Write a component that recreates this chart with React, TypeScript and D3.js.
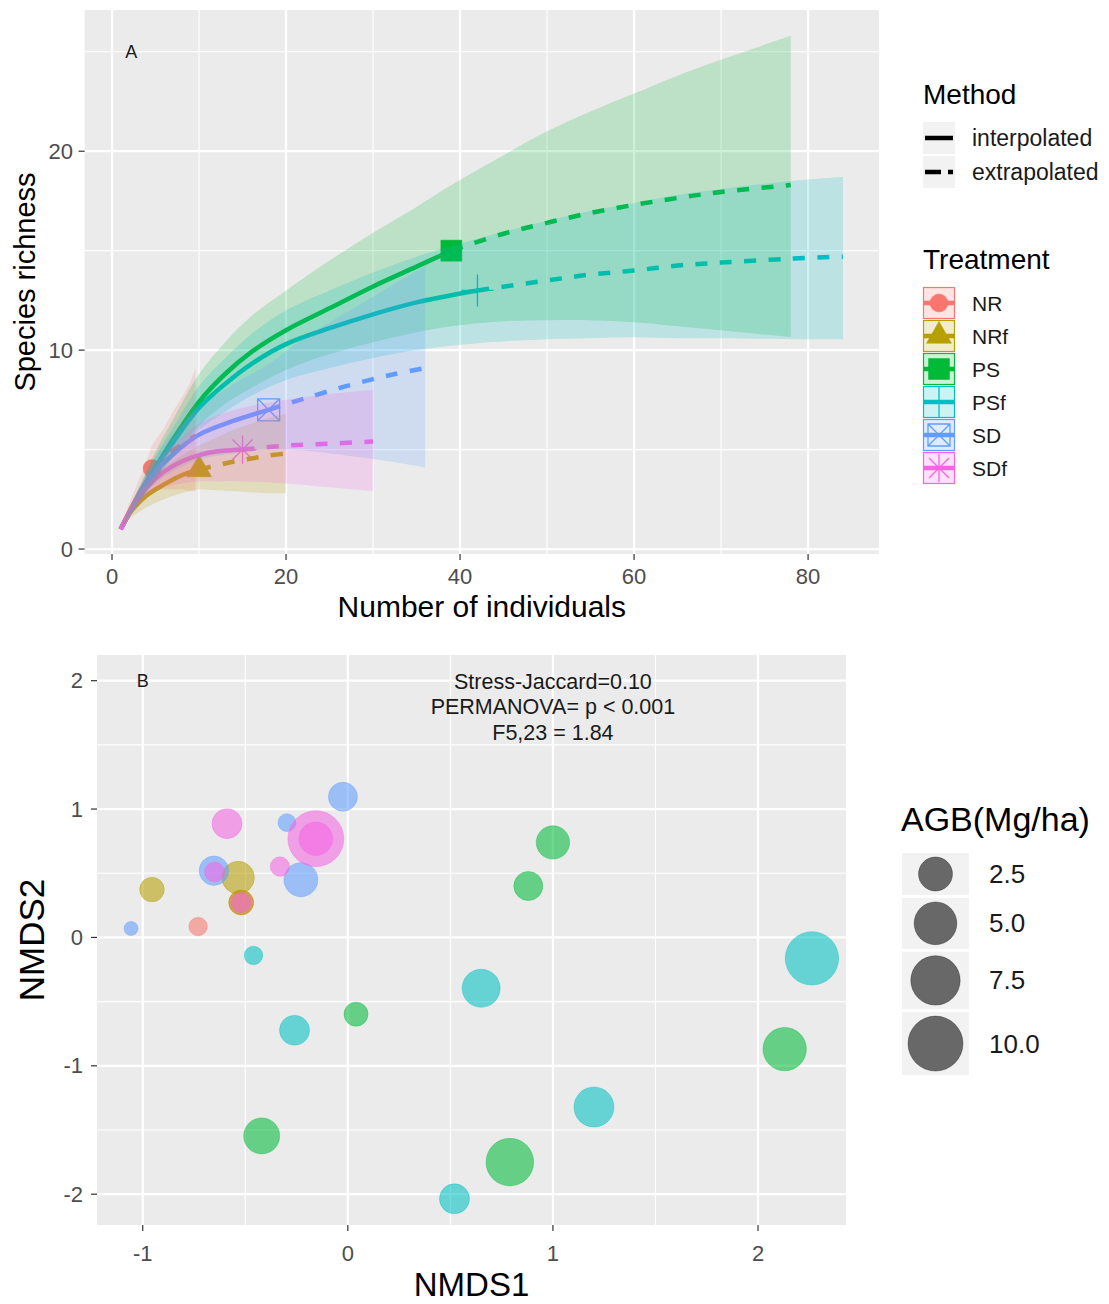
import React from 'react';
import * as d3 from 'd3';

// ---------- shared ----------
const TREATMENTS = ['NR', 'NRf', 'PS', 'PSf', 'SD', 'SDf'];
const COLORS = ['#F8766D', '#B79F00', '#00BA38', '#00BFC4', '#619CFF', '#F564E3'];
const SHAPES = ['circle', 'triangle', 'square', 'plus', 'boxX', 'asterisk'];

// ---------- panel A: rarefaction curves, rows are [m, est, lcl, ucl] ----------
const NR_interp = [[1, 1, 1, 1], [2, 1.9, 1.6, 2.3], [3, 2.7, 2.1, 3.4], [4, 3.45, 2.6, 4.4], [4.6, 4.05, 2.9, 5.2]];
const NR_extrap = [[4.6, 4.05, 2.9, 5.2], [6, 4.6, 3.0, 6.1], [7, 4.95, 3.0, 6.9], [8, 5.25, 3.0, 7.6], [9, 5.55, 2.9, 8.4], [9.6, 5.7, 2.9, 9.1]];
const NRf_interp = [[1, 1, 1, 1], [2, 1.8, 1.5, 2.1], [4, 2.7, 2.1, 3.3], [6, 3.25, 2.5, 4.1], [8, 3.7, 2.8, 4.7], [10, 4.0, 3.0, 5.2]];
const NRf_extrap = [[10, 4.0, 3.0, 5.2], [12, 4.2, 2.95, 5.6], [14, 4.4, 2.9, 6.0], [16, 4.55, 2.85, 6.3], [18, 4.7, 2.8, 6.6], [20, 4.8, 2.8, 6.8]];
const PS_interp = [[1, 1, 1, 1], [3, 2.6, 2.3, 3.0], [5, 4.1, 3.5, 4.9], [7, 5.5, 4.6, 6.5], [10, 7.4, 6.2, 8.8], [13, 8.8, 7.3, 10.4], [16, 9.9, 8.1, 11.7], [20, 11.0, 9.0, 13.0], [25, 12.1, 9.8, 14.5], [30, 13.2, 10.4, 15.9], [35, 14.2, 10.9, 17.2], [39, 15.0, 11.2, 18.3]];
const PS_extrap = [[39, 15.0, 11.2, 18.3], [45, 15.85, 11.45, 19.8], [50, 16.4, 11.5, 21.0], [55, 16.9, 11.5, 22.0], [60, 17.3, 11.4, 22.9], [65, 17.65, 11.2, 23.8], [70, 17.95, 11.0, 24.6], [78, 18.3, 10.65, 25.8]];
const PSf_interp = [[1, 1, 1, 1], [3, 2.6, 2.3, 2.9], [5, 4.05, 3.5, 4.7], [7, 5.35, 4.6, 6.1], [10, 7.1, 6.0, 8.2], [13, 8.3, 6.9, 9.6], [16, 9.3, 7.7, 10.8], [20, 10.3, 8.5, 12.0], [25, 11.1, 9.1, 13.0], [30, 11.8, 9.6, 13.9], [35, 12.4, 10.0, 14.7], [42, 13.0, 10.35, 15.6]];
const PSf_extrap = [[42, 13.0, 10.35, 15.6], [50, 13.5, 10.55, 16.5], [55, 13.8, 10.6, 17.0], [60, 14.0, 10.65, 17.4], [65, 14.25, 10.6, 17.8], [70, 14.4, 10.6, 18.1], [78, 14.6, 10.55, 18.5], [84, 14.7, 10.55, 18.7]];
const SD_interp = [[1, 1, 1, 1], [3, 2.6, 2.3, 3.0], [5, 3.9, 3.3, 4.6], [7, 4.75, 3.9, 5.8], [10, 5.75, 4.5, 7.1], [14, 6.45, 4.8, 8.3], [18, 7.0, 5.0, 9.3]];
const SD_extrap = [[18, 7.0, 5.0, 9.3], [22, 7.55, 4.95, 10.6], [27, 8.2, 4.7, 11.9], [32, 8.75, 4.4, 13.2], [36, 9.1, 4.1, 14.2]];
const SDf_interp = [[1, 1, 1, 1], [2.5, 2.2, 1.9, 2.5], [4, 3.1, 2.6, 3.7], [6, 3.9, 3.1, 4.8], [8, 4.4, 3.3, 5.6], [10, 4.72, 3.4, 6.3], [12, 4.9, 3.4, 6.7], [15, 5.0, 3.4, 7.1]];
const SDf_extrap = [[15, 5.0, 3.4, 7.1], [20, 5.2, 3.3, 7.5], [25, 5.3, 3.1, 7.8], [30, 5.4, 2.9, 8.0]];

const INTERP = [NR_interp, NRf_interp, PS_interp, PSf_interp, SD_interp, SDf_interp];
const EXTRAP = [NR_extrap, NRf_extrap, PS_extrap, PSf_extrap, SD_extrap, SDf_extrap];

const A_X_TICKS = [0, 20, 40, 60, 80];
const A_X_MINOR = [10, 30, 50, 70];
const A_Y_TICKS = [0, 10, 20];
const A_Y_MINOR = [5, 15, 25];
const A_LABEL = { text: 'A', x: 2.2, y: 25 };
const METHODS = ['interpolated', 'extrapolated'];

// ---------- panel B: NMDS ----------
const B_treat = [
  'NR', 'NR',
  'NRf', 'NRf', 'NRf',
  'PS', 'PS', 'PS', 'PS', 'PS', 'PS',
  'PSf', 'PSf', 'PSf', 'PSf', 'PSf', 'PSf',
  'SD', 'SD', 'SD', 'SD', 'SD',
  'SDf', 'SDf', 'SDf', 'SDf', 'SDf', 'SDf',
];
const B_nmds1 = [
  -0.73, -0.52,
  -0.955, -0.535, -0.52,
  0.04, -0.42, 0.79, 0.88, 1.0, 2.13,
  -0.46, -0.26, 0.52, 0.65, 1.2, 2.263,
  -1.057, -0.653, -0.297, -0.229, -0.024,
  -0.589, -0.331, -0.156, -0.156, -0.65, -0.52,
];
const B_nmds2 = [
  0.085, 0.272,
  0.373, 0.466, 0.272,
  -0.598, -1.546, -1.75, 0.40, 0.74, -0.87,
  -0.14, -0.723, -2.036, -0.396, -1.321, -0.163,
  0.07, 0.52, 0.894, 0.45, 1.096,
  0.886, 0.552, 0.769, 0.769, 0.51, 0.272,
];
const B_agb = [
  0.28, 0.8,
  0.82, 2.19, 0.87,
  0.75, 3.0, 6.78, 1.48, 2.36, 5.23,
  0.28, 1.66, 1.66, 3.54, 4.12, 9.26,
  0.16, 1.55, 0.25, 2.51, 1.48,
  1.66, 0.33, 10.5, 2.41, 0.37, 0.37,
];
const B_X_TICKS = [-1, 0, 1, 2];
const B_X_MINOR = [-0.5, 0.5, 1.5];
const B_Y_TICKS = [-2, -1, 0, 1, 2];
const B_Y_MINOR = [-1.5, -0.5, 0.5, 1.5];
const AGB_BREAKS = [2.5, 5.0, 7.5, 10.0];
const B_LABEL = { text: 'B', x: -1, y: 2 };
const B_NOTE = ['Stress-Jaccard=0.10', 'PERMANOVA= p < 0.001', 'F5,23 = 1.84'];
const B_NOTE_POS = { x: 1, y: 2 };

const FONT = '"Liberation Sans", Arial, Helvetica, sans-serif';
const PANEL_BG = '#EBEBEB';
const TICK_COL = '#333333';
const TICK_TXT = '#4D4D4D';

function markerPath(shape: string): string {
  switch (shape) {
    case 'circle':
      return d3.symbol(d3.symbolCircle, Math.PI * 9 * 9)() as string;
    case 'triangle': {
      const s = 25, h = (s * Math.sqrt(3)) / 2;
      return `M0,${-h * 2 / 3}L${s / 2},${h / 3}L${-s / 2},${h / 3}Z`;
    }
    case 'square':
      return d3.symbol(d3.symbolSquare, 21 * 21)() as string;
    case 'plus':
      return 'M0,-16V16M-16,0H16';
    case 'boxX':
      return 'M-11,-11H11V11H-11ZM-11,-11L11,11M11,-11L-11,11';
    case 'asterisk':
      return 'M0,-14V14M-14,0H14M-10,-10L10,10M10,-10L-10,10';
  }
  return '';
}
const FILLED = new Set(['circle', 'triangle', 'square']);

function Marker({ shape, color, x, y }: { shape: string; color: string; x: number; y: number }) {
  const filled = FILLED.has(shape);
  return (
    <path
      d={markerPath(shape)}
      transform={`translate(${x},${y})`}
      fill={filled ? color : 'none'}
      stroke={color}
      strokeWidth={filled ? 0.5 : 1.3}
    />
  );
}

export default function App() {
  // ----- Panel A scales -----
  const xA = d3.scaleLinear().domain([-3.15, 88.15]).range([84.6, 879]);
  const yA = d3.scaleLinear().domain([-0.25, 27.1]).range([554, 10]);
  const [ax0, ax1] = xA.range();
  const [ay1, ay0] = yA.range();

  const curve = d3.curveCatmullRom.alpha(0.5);
  const line = d3
    .line<number[]>()
    .x((d) => xA(d[0]))
    .y((d) => yA(d[1]))
    .curve(curve);
  const area = d3
    .area<number[]>()
    .x((d) => xA(d[0]))
    .y0((d) => yA(d[2]))
    .y1((d) => yA(d[3]))
    .curve(curve);

  // ----- Panel B scales -----
  const xB = d3.scaleLinear().domain([-1.223, 2.429]).range([97, 846]);
  const yB = d3.scaleLinear().domain([-2.24, 2.2]).range([1225, 655]);
  const [bx0, bx1] = xB.range();
  const [by1, by0] = yB.range();
  const agbMin = d3.min(B_agb) as number;
  const agbMax = d3.max(B_agb) as number;
  const rScale = d3.scaleSqrt().domain([0, agbMax - agbMin]).range([7, 28]);
  const radius = (v: number) => rScale(Math.max(0, v - agbMin));
  const colorOf = d3.scaleOrdinal<string, string>().domain(TREATMENTS).range(COLORS);

  // legend B layout
  const legendB: { v: number; r: number; top: number; h: number }[] = [];
  let cursor = 853;
  AGB_BREAKS.forEach((v) => {
    const r = radius(v);
    const h = 2 * r + 8;
    legendB.push({ v, r, top: cursor, h });
    cursor += h + 3;
  });

  return (
    <svg
      width={1109}
      height={1304}
      style={{ position: 'absolute', left: 0, top: 0, background: '#fff' }}
      fontFamily={FONT}
    >
      <rect x={0} y={0} width={1109} height={1304} fill="#fff" />

      {/* ================= PANEL A ================= */}
      <rect x={ax0} y={ay0} width={ax1 - ax0} height={ay1 - ay0} fill={PANEL_BG} />
      {A_X_MINOR.map((t) => (
        <line key={'axm' + t} x1={xA(t)} x2={xA(t)} y1={ay0} y2={ay1} stroke="#fff" strokeWidth={1.1} />
      ))}
      {A_Y_MINOR.map((t) => (
        <line key={'aym' + t} x1={ax0} x2={ax1} y1={yA(t)} y2={yA(t)} stroke="#fff" strokeWidth={1.1} />
      ))}
      {A_X_TICKS.map((t) => (
        <line key={'axM' + t} x1={xA(t)} x2={xA(t)} y1={ay0} y2={ay1} stroke="#fff" strokeWidth={2.2} />
      ))}
      {A_Y_TICKS.map((t) => (
        <line key={'ayM' + t} x1={ax0} x2={ax1} y1={yA(t)} y2={yA(t)} stroke="#fff" strokeWidth={2.2} />
      ))}

      {/* observed points (drawn first, like ggiNEXT) */}
      {TREATMENTS.map((t, i) => {
        const last = INTERP[i][INTERP[i].length - 1];
        return <Marker key={'pt' + t} shape={SHAPES[i]} color={COLORS[i]} x={xA(last[0])} y={yA(last[1])} />;
      })}
      {/* lines */}
      {TREATMENTS.map((t, i) => (
        <g key={'ln' + t}>
          <path d={line(INTERP[i]) as string} fill="none" stroke={COLORS[i]} strokeWidth={4.5} />
          <path
            d={line(EXTRAP[i]) as string}
            fill="none"
            stroke={COLORS[i]}
            strokeWidth={4.5}
            strokeDasharray="12,12.4"
          />
        </g>
      ))}
      {/* ribbons */}
      {TREATMENTS.map((t, i) => (
        <path
          key={'rb' + t}
          d={area(INTERP[i].concat(EXTRAP[i].slice(1))) as string}
          fill={COLORS[i]}
          fillOpacity={0.2}
          stroke="none"
        />
      ))}

      <text x={xA(A_LABEL.x)} y={yA(A_LABEL.y)} fontSize={18} textAnchor="middle" dominantBaseline="central" fill="#1a1a1a">
        {A_LABEL.text}
      </text>

      {/* axes A */}
      {A_X_TICKS.map((t) => (
        <g key={'axt' + t}>
          <line x1={xA(t)} x2={xA(t)} y1={ay1} y2={ay1 + 6} stroke={TICK_COL} strokeWidth={1.2} />
          <text x={xA(t)} y={584} fontSize={22} textAnchor="middle" fill={TICK_TXT}>
            {t}
          </text>
        </g>
      ))}
      {A_Y_TICKS.map((t) => (
        <g key={'ayt' + t}>
          <line x1={ax0 - 6} x2={ax0} y1={yA(t)} y2={yA(t)} stroke={TICK_COL} strokeWidth={1.2} />
          <text x={73} y={yA(t)} fontSize={22} textAnchor="end" dominantBaseline="central" fill={TICK_TXT}>
            {t}
          </text>
        </g>
      ))}
      <text x={(ax0 + ax1) / 2} y={617} fontSize={30} textAnchor="middle" fill="#000">
        Number of individuals
      </text>
      <text
        transform={`translate(35,${(ay0 + ay1) / 2}) rotate(-90)`}
        fontSize={29}
        textAnchor="middle"
        fill="#000"
      >
        Species richness
      </text>

      {/* legend A: Method */}
      <text x={923} y={104} fontSize={28} fill="#000">
        Method
      </text>
      {METHODS.map((m, i) => {
        const cy = 138 + i * 34;
        return (
          <g key={'meth' + m}>
            <rect x={923} y={cy - 16} width={32} height={32} fill="#F2F2F2" />
            <line
              x1={925}
              x2={953}
              y1={cy}
              y2={cy}
              stroke="#000"
              strokeWidth={4.5}
              strokeDasharray={i === 1 ? '16,7' : undefined}
            />
            <text x={972} y={cy} fontSize={23} dominantBaseline="central" fill="#1a1a1a">
              {m}
            </text>
          </g>
        );
      })}
      {/* legend A: Treatment */}
      <text x={923} y={269} fontSize={28} fill="#000">
        Treatment
      </text>
      {TREATMENTS.map((t, i) => {
        const cy = 303 + i * 33;
        return (
          <g key={'tr' + t}>
            <rect x={923.5} y={cy - 15.5} width={31} height={31} fill={COLORS[i]} fillOpacity={0.2} stroke={COLORS[i]} strokeWidth={1.2} />
            <line x1={924} x2={954} y1={cy} y2={cy} stroke={COLORS[i]} strokeWidth={4.5} />
            <Marker shape={SHAPES[i]} color={COLORS[i]} x={939} y={cy} />
            <text x={972} y={cy} fontSize={21} dominantBaseline="central" fill="#1a1a1a">
              {t}
            </text>
          </g>
        );
      })}

      {/* ================= PANEL B ================= */}
      <rect x={bx0} y={by0} width={bx1 - bx0} height={by1 - by0} fill={PANEL_BG} />
      {B_X_MINOR.map((t) => (
        <line key={'bxm' + t} x1={xB(t)} x2={xB(t)} y1={by0} y2={by1} stroke="#fff" strokeWidth={1.1} />
      ))}
      {B_Y_MINOR.map((t) => (
        <line key={'bym' + t} x1={bx0} x2={bx1} y1={yB(t)} y2={yB(t)} stroke="#fff" strokeWidth={1.1} />
      ))}
      {B_X_TICKS.map((t) => (
        <line key={'bxM' + t} x1={xB(t)} x2={xB(t)} y1={by0} y2={by1} stroke="#fff" strokeWidth={2.2} />
      ))}
      {B_Y_TICKS.map((t) => (
        <line key={'byM' + t} x1={bx0} x2={bx1} y1={yB(t)} y2={yB(t)} stroke="#fff" strokeWidth={2.2} />
      ))}

      {B_treat.map((t, i) => (
        <circle
          key={'bp' + i}
          cx={xB(B_nmds1[i])}
          cy={yB(B_nmds2[i])}
          r={radius(B_agb[i])}
          fill={colorOf(t)}
          fillOpacity={0.57}
          stroke={colorOf(t)}
          strokeOpacity={0.35}
          strokeWidth={1}
        />
      ))}

      <text x={xB(B_LABEL.x)} y={yB(B_LABEL.y)} fontSize={18} textAnchor="middle" dominantBaseline="central" fill="#1a1a1a">
        {B_LABEL.text}
      </text>
      {B_NOTE.map((s, i) => (
        <text
          key={'note' + i}
          x={xB(B_NOTE_POS.x)}
          y={yB(B_NOTE_POS.y) + 8 + i * 25.5}
          fontSize={21.5}
          textAnchor="middle"
          fill="#1a1a1a"
        >
          {s}
        </text>
      ))}

      {/* axes B */}
      {B_X_TICKS.map((t) => (
        <g key={'bxt' + t}>
          <line x1={xB(t)} x2={xB(t)} y1={by1} y2={by1 + 6} stroke={TICK_COL} strokeWidth={1.2} />
          <text x={xB(t)} y={1261} fontSize={22} textAnchor="middle" fill={TICK_TXT}>
            {t}
          </text>
        </g>
      ))}
      {B_Y_TICKS.map((t) => (
        <g key={'byt' + t}>
          <line x1={bx0 - 6} x2={bx0} y1={yB(t)} y2={yB(t)} stroke={TICK_COL} strokeWidth={1.2} />
          <text x={83} y={yB(t)} fontSize={22} textAnchor="end" dominantBaseline="central" fill={TICK_TXT}>
            {t}
          </text>
        </g>
      ))}
      <text x={(bx0 + bx1) / 2} y={1296} fontSize={33} textAnchor="middle" fill="#000">
        NMDS1
      </text>
      <text transform={`translate(44,${(by0 + by1) / 2}) rotate(-90)`} fontSize={35} textAnchor="middle" fill="#000">
        NMDS2
      </text>

      {/* legend B */}
      <text x={901} y={831} fontSize={34} fill="#000">
        AGB(Mg/ha)
      </text>
      {legendB.map((k) => (
        <g key={'lb' + k.v}>
          <rect x={902} y={k.top} width={67} height={k.h} fill="#F2F2F2" />
          <circle cx={935.5} cy={k.top + k.h / 2} r={k.r} fill="#000" fillOpacity={0.57} stroke="#000" strokeOpacity={0.3} />
          <text x={989} y={k.top + k.h / 2} fontSize={26} dominantBaseline="central" fill="#1a1a1a">
            {k.v.toFixed(1)}
          </text>
        </g>
      ))}
    </svg>
  );
}
